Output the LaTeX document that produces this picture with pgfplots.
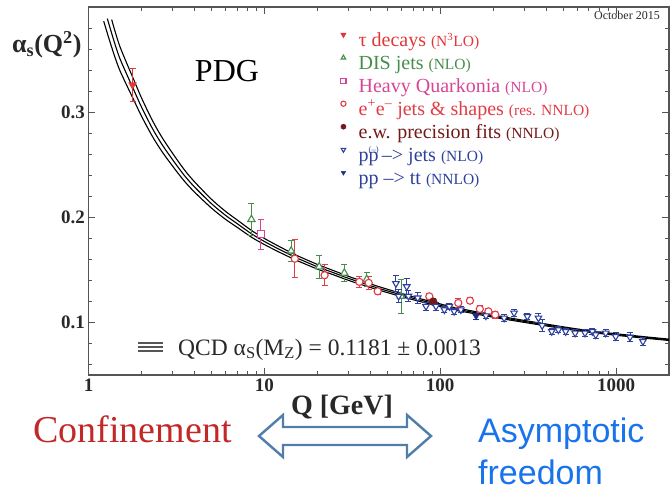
\documentclass[border=0pt]{standalone}
\usepackage{fontspec}
\setmainfont{Liberation Serif}
\newfontfamily\arialfont{Liberation Sans}
\usepackage{pgfplots}
\pgfplotsset{compat=1.18}
\definecolor{axisgray}{RGB}{85,85,85}
\definecolor{taured}{RGB}{225,55,55}
\definecolor{disgreen}{RGB}{70,140,75}
\definecolor{hqpink}{RGB}{215,70,150}
\definecolor{eered}{RGB}{225,60,70}
\definecolor{ewbrown}{RGB}{115,25,25}
\definecolor{ppblue}{RGB}{45,65,155}
\definecolor{ttblue}{RGB}{30,45,135}
\definecolor{confred}{RGB}{195,40,40}
\definecolor{asymblue}{RGB}{25,115,235}
\definecolor{arrowblue}{RGB}{80,125,170}
\definecolor{txtgray}{RGB}{40,40,40}

\pgfplotstableread{
Q a
1.22 0.3865
1.28 0.375
1.3 0.3712
1.4 0.3544
1.5 0.3405
1.65 0.3255
1.8 0.3123
2.0 0.2963
2.3 0.2774
2.6 0.2632
3.0 0.2489
3.5 0.2346
4.0 0.2241
5.0 0.2088
6.0 0.1982
7.0 0.1905
8.5 0.1808
10 0.1741
12 0.1673
15 0.1596
20 0.1508
25 0.1450
30 0.1401
40 0.1333
50 0.1284
70 0.1216
91.2 0.1168
120 0.1118
150 0.1089
200 0.10495
300 0.10005
500 0.09416
700 0.09072
1000 0.08777
1500 0.08482
2000 0.08285
}\curvelo
\pgfplotstableread{
Q a
1.28 0.389
1.3 0.385
1.4 0.367
1.5 0.352
1.65 0.336
1.8 0.322
2.0 0.305
2.3 0.285
2.6 0.270
3.0 0.255
3.5 0.240
4.0 0.229
5.0 0.213
6.0 0.202
7.0 0.194
8.5 0.184
10 0.177
12 0.170
15 0.162
20 0.153
25 0.147
30 0.142
40 0.135
50 0.130
70 0.123
91.2 0.1181
120 0.113
150 0.110
200 0.106
300 0.101
500 0.095
700 0.0915
1000 0.0885
1500 0.0855
2000 0.0835
}\curvemid
\pgfplotstableread{
Q a
1.355 0.388
1.4 0.3796
1.5 0.3635
1.65 0.3465
1.8 0.3317
2.0 0.3137
2.3 0.2926
2.6 0.2768
3.0 0.2611
3.5 0.2454
4.0 0.2339
5.0 0.2172
6.0 0.2058
7.0 0.1975
8.5 0.1872
10 0.1799
12 0.1727
15 0.1644
20 0.1552
25 0.1490
30 0.1439
40 0.1367
50 0.1316
70 0.1244
91.2 0.1194
120 0.1142
150 0.1111
200 0.10705
300 0.10195
500 0.09584
700 0.09228
1000 0.08923
1500 0.08618
2000 0.08415
}\curvehi

\pgfplotstableread{
x y e
1.78 0.326 0.016
}\tau
\pgfplotstableread{
x y e
8.44 0.198 0.015
14.2 0.168 0.010
20.5 0.153 0.011
28.5 0.147 0.0077
38.2 0.141 0.007
59.9 0.125 0.016
}\dis
\pgfplotstableread{
x y e
9.53 0.1838 0.0144
}\hq
\pgfplotstableread{
x y e
14.9 0.1606 0.018
22.0 0.1449 0.0098
34.7 0.1386 0.005
39.2 0.1376 0.006
44.1 0.1296 0.003
86.7 0.1248 0.003
126.7 0.1185 0.004
147.6 0.1207 0.003
168 0.1128 0.003
188 0.1105 0.003
205.5 0.1074 0.0035
}\ee
\pgfplotstableread{
x y e
91.2 0.1197 0.003
}\ew
\pgfplotstableread{
x y e
56 0.137 0.008
58 0.125 0.006
64.5 0.134 0.008
66 0.125 0.005
74.5 0.1233 0.005
83 0.1153 0.004
94.6 0.1153 0.004
105.5 0.1121 0.003
112.7 0.1153 0.003
120 0.1105 0.003
131 0.1121 0.003
182 0.1064 0.003
231 0.1042 0.003
263 0.109 0.003
313 0.1057 0.003
362 0.1042 0.004
380 0.097 0.006
431 0.0914 0.003
470 0.093 0.003
517 0.0914 0.003
585 0.0899 0.003
666 0.0899 0.003
733 0.0914 0.003
766 0.0882 0.003
873 0.0899 0.003
995 0.0866 0.004
1200 0.086 0.004
1421 0.0819 0.004
}\ppjets
\pgfplotstableread{
x y e
160 0.106 0.003
}\tt

\pgfplotsset{
  ebars/.style={error bars/.cd, y dir=both, y explicit,
    error bar style={line width=0.9pt},
    error mark options={rotate=90, mark size=3pt, line width=0.9pt}},
}

\begin{document}
\begin{tikzpicture}[x=1pt,y=1pt]
\path[use as bounding box] (0,0) rectangle (671,491);
\begin{axis}[
  at={(88.5pt,116pt)}, anchor=south west,
  width=580.5pt, height=368pt, scale only axis,
  xmode=log, xmin=1, xmax=2000, ymin=0.05, ymax=0.40,
  xtick={1,10,100,1000}, xticklabels={1,10,100,1000},
  ytick={0.1,0.2,0.3}, yticklabels={0.1,0.2,0.3},
  minor ytick={0.06,0.08,0.12,0.14,0.16,0.18,0.22,0.24,0.26,0.28,0.32,0.34,0.36,0.38},
  tick align=inside,
  major tick length=7pt, minor tick length=4pt,
  every tick/.style={line width=0.8pt, color=axisgray},
  axis line style={line width=1.3pt, color=axisgray},
  ticklabel style={font=\fontsize{19}{19}\selectfont\bfseries, text=txtgray},
  /pgf/number format/assume math mode=true,
  legend cell align=left,
  legend image code/.code={\path (0pt,0pt) (22pt,0pt); \draw[#1, mark size=2.6pt] plot coordinates {(7pt,6.5pt)};},
  legend style={at={(0.4264,0.9348)}, anchor=north west, draw=none, fill=none,
    inner sep=0pt, row sep=3pt, font=\fontsize{20}{20}\selectfont,
    nodes={inner sep=0pt, text height=15pt, text depth=5pt}},
]
\addplot[black, line width=1.1pt, smooth, forget plot] table[x=Q,y=a] {\curvelo};
\addplot[black, line width=1.1pt, smooth, forget plot] table[x=Q,y=a] {\curvemid};
\addplot[black, line width=1.1pt, smooth, forget plot] table[x=Q,y=a] {\curvehi};

\addplot[only marks, color=taured, mark=triangle*, mark size=4pt, mark options={rotate=180, fill=taured, line width=1pt}, ebars] table[x=x,y=y,y error=e] {\tau};
\addlegendentry[text=taured]{τ decays {\fontsize{15.5}{15.5}\selectfont (N\textsuperscript{3}LO)}}
\addplot[only marks, color=disgreen, mark=triangle*, mark size=4.2pt, mark options={fill=white, line width=1.1pt}, ebars] table[x=x,y=y,y error=e] {\dis};
\addlegendentry[text=disgreen]{DIS jets {\fontsize{15.5}{15.5}\selectfont (NLO)}}
\addplot[only marks, color=hqpink, mark=square*, mark size=3.4pt, mark options={fill=white, line width=1.1pt}, ebars] table[x=x,y=y,y error=e] {\hq};
\addlegendentry[text=hqpink]{Heavy Quarkonia {\fontsize{15.5}{15.5}\selectfont (NLO)}}
\addplot[only marks, color=eered, mark=*, mark size=3.6pt, mark options={fill=white, line width=1.1pt}, ebars] table[x=x,y=y,y error=e] {\ee};
\addlegendentry[text=eered]{e\textsuperscript{+}e\textsuperscript{--} jets \& shapes {\fontsize{15.5}{15.5}\selectfont (res. NNLO)}}
\addplot[only marks, color=ewbrown, mark=*, mark size=4pt, mark options={fill=ewbrown}, ebars] table[x=x,y=y,y error=e] {\ew};
\addlegendentry[text=ewbrown]{e.w. precision fits {\fontsize{15.5}{15.5}\selectfont (NNLO)}}
\addplot[only marks, color=ppblue, mark=triangle*, mark size=3.8pt, mark options={rotate=180, fill=white, line width=1.1pt}, ebars] table[x=x,y=y,y error=e] {\ppjets};
\addlegendentry[text=ppblue]{p\ooalign{p\cr\hidewidth\raisebox{0.45em}{\fontsize{8.5}{8.5}\selectfont(--)}\hidewidth\cr}\,\textendash{}> jets {\fontsize{15.5}{15.5}\selectfont (NLO)}}
\addplot[only marks, color=ttblue, mark=triangle*, mark size=3.8pt, mark options={rotate=180, fill=ttblue}, ebars] table[x=x,y=y,y error=e] {\tt};
\addlegendentry[text=ppblue]{pp \textendash{}> tt {\fontsize{15.5}{15.5}\selectfont (NNLO)}}
\end{axis}

% annotations
\node[anchor=base east, inner sep=0pt, font=\fontsize{12}{12}\selectfont, text=txtgray] at (660,471) {October 2015};
\node[anchor=base, inner sep=0pt, font=\fontsize{32}{32}\selectfont] at (227,409) {PDG};
\node[anchor=base west, inner sep=0pt, font=\fontsize{26}{26}\selectfont\bfseries, text=txtgray] at (12,438) {α\textsubscript{s}(Q\textsuperscript{2})};
\draw[line width=1.2pt, axisgray] (138,148) -- (163,148) (138,144) -- (163,144) (138,140) -- (163,140);
\node[anchor=base west, inner sep=0pt, font=\fontsize{23.5}{23.5}\selectfont, text=txtgray] at (178,136) {QCD α\textsubscript{S}(M\textsubscript{Z}) = 0.1181 ± 0.0013};
\node[anchor=base, inner sep=0pt, font=\fontsize{28}{28}\selectfont\bfseries, text=txtgray] at (342,77) {Q [GeV]};
\node[anchor=base west, inner sep=0pt, font=\fontsize{38}{38}\selectfont, text=confred] at (33,49) {Confinement};
\node[anchor=base west, inner sep=0pt, font=\arialfont\fontsize{34}{34}\selectfont, text=asymblue] at (478,49) {Asymptotic};
\node[anchor=base west, inner sep=0pt, font=\arialfont\fontsize{34}{34}\selectfont, text=asymblue] at (478,7) {freedom};
\draw[line width=2.4pt, arrowblue, line join=miter, fill=white]
  (259,55) -- (283,76) -- (283,64) -- (407,64) -- (407,76) -- (431,55)
  -- (407,34) -- (407,46) -- (283,46) -- (283,34) -- cycle;
\end{tikzpicture}
\end{document}
